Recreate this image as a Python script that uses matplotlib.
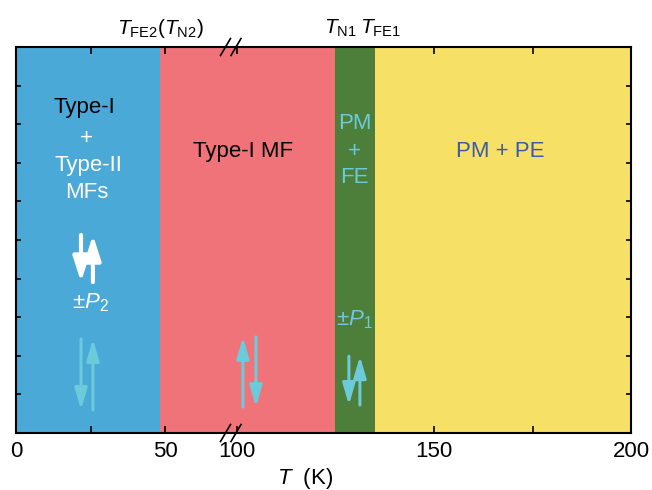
import numpy as np
import matplotlib.pyplot as plt

plt.rcParams['font.family'] = ['Liberation Sans', 'DejaVu Sans']
plt.rcParams['mathtext.fontset'] = 'custom'
plt.rcParams['mathtext.rm'] = 'Liberation Sans'
plt.rcParams['mathtext.it'] = 'Liberation Sans:italic'

# phase boundaries (K) and colours
bounds = [0, 48.3, 124.8, 134.9, 200]
phase_colors = ['#4BA9D8', '#F0737A', '#4D7E3A', '#F6E065']

# broken T axis: 0..72 K and 98.5..200 K
T_KNOTS = [0, 72.1, 98.5, 200]
X_KNOTS = [0, 215, 215.1, 615]

# polarization arrows: x (K), tail and head (axes fraction)
white_x = [21.8, 25.8]
white_tail = [0.513, 0.391]
white_head = [0.391, 0.513]
cyan_x = [21.8, 25.8, 101.5, 104.8, 128.4, 131.2]
cyan_tail = [0.2435, 0.0596, 0.067, 0.249, 0.199, 0.0725]
cyan_head = [0.0596, 0.2435, 0.249, 0.067, 0.0725, 0.199]

CYAN = '#6BCBDB'


def fwd(t):
    return np.interp(t, T_KNOTS, X_KNOTS)


def inv(x):
    return np.interp(x, X_KNOTS, T_KNOTS)


fig = plt.figure(figsize=(6.52, 4.9), dpi=100)
ax = fig.add_axes([16 / 652, 1 - 433 / 490, 615 / 652, 386 / 490])
ax.set_xscale('function', functions=(fwd, inv))

for i in range(len(phase_colors)):
    ax.axvspan(bounds[i], bounds[i + 1], color=phase_colors[i], lw=0)

ax.set_xlim(0, 200)
ax.set_ylim(0, 10)
ax.set_xticks([0, 50, 100, 150, 200])
ax.set_xticks([25, 175], minor=True)
ax.set_yticks(range(1, 10))
ax.set_yticklabels([])
ax.tick_params(axis='x', which='both', direction='in', top=True, length=5,
               width=1.2, labelsize=16, pad=6)
ax.tick_params(axis='y', direction='in', right=True, length=3.5, width=1.2)
for s in ax.spines.values():
    s.set_linewidth(1.5)

# break marks
for yb in (0, 1):
    for dx in (-5.5, 5):
        x0 = (231 + dx - 5 - 16) / 615
        x1 = (231 + dx + 5 - 16) / 615
        ax.plot([x0, x1], [yb - 0.022, yb + 0.022], transform=ax.transAxes,
                color='black', lw=1.2, clip_on=False)

# arrows
for x, y0, y1 in zip(white_x, white_tail, white_head):
    ax.annotate('', xy=(x, y1), xytext=(x, y0),
                xycoords=('data', 'axes fraction'),
                textcoords=('data', 'axes fraction'),
                arrowprops=dict(arrowstyle='-|>,head_length=1.5,head_width=0.48',
                                mutation_scale=10, lw=3, color='white',
                                shrinkA=0, shrinkB=0))
for x, y0, y1 in zip(cyan_x, cyan_tail, cyan_head):
    ax.annotate('', xy=(x, y1), xytext=(x, y0),
                xycoords=('data', 'axes fraction'),
                textcoords=('data', 'axes fraction'),
                arrowprops=dict(arrowstyle='-|>,head_length=1.3,head_width=0.38',
                                mutation_scale=10, lw=2.2, color=CYAN,
                                shrinkA=0, shrinkB=0))

# region labels
tr = ax.get_xaxis_transform()
kw = dict(transform=tr, ha='center', va='center', fontsize=16)
ax.text(22.8, 0.842, 'Type-I', color='black', **kw)
ax.text(23.6, 0.762, '+', color='white', **kw)
ax.text(24.2, 0.694, 'Type-II', color='white', **kw)
ax.text(23.9, 0.624, 'MFs', color='white', **kw)
ax.text(25.0, 0.337, r'$\pm P_{2}$', color='white', **kw)
ax.text(101.5, 0.728, 'Type-I MF', color='black', **kw)
ax.text(129.85, 0.803, 'PM', color=CYAN, **kw)
ax.text(129.85, 0.728, '+', color=CYAN, **kw)
ax.text(129.85, 0.661, 'FE', color=CYAN, **kw)
ax.text(129.8, 0.293, r'$\pm P_{1}$', color=CYAN, **kw)
ax.text(166.8, 0.728, 'PM + PE', color='#3A5BA8', **kw)

# transition temperatures above the frame
tkw = dict(transform=tr, ha='center', va='baseline', fontsize=15, clip_on=False)
ax.text(48.3, 1.034, r'$T_{\mathrm{FE2}}(T_{\mathrm{N2}})$', **tkw)
ax.text(126.1, 1.034, r'$T_{\mathrm{N1}}$', **tkw)
ax.text(136.3, 1.034, r'$T_{\mathrm{FE1}}$', **tkw)

fig.text(305 / 652, 6 / 490, r'$T$  (K)', ha='center', va='baseline', fontsize=16)

fig.savefig('out.png', dpi=100)
